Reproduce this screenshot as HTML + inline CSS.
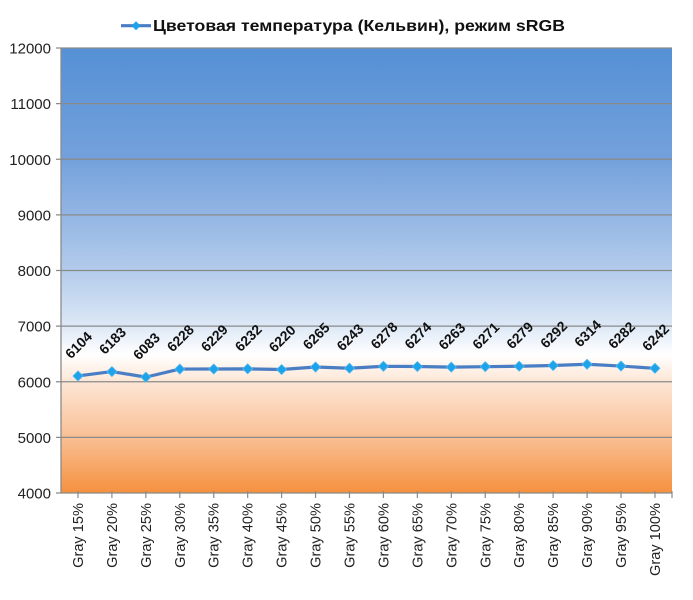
<!DOCTYPE html>
<html>
<head>
<meta charset="utf-8">
<style>
html,body{margin:0;padding:0;background:#fff;}
svg{display:block;}
text{font-family:"Liberation Sans",Arial,sans-serif;}
</style>
</head>
<body>
<svg width="693" height="600" viewBox="0 0 693 600" xmlns="http://www.w3.org/2000/svg">
<defs>
<linearGradient id="bg" x1="0" y1="0" x2="0" y2="1">
<stop offset="0" stop-color="#5590d5"/>
<stop offset="0.25" stop-color="#74a1dc"/>
<stop offset="0.375" stop-color="#93b6e3"/>
<stop offset="0.5" stop-color="#b3cbeb"/>
<stop offset="0.625" stop-color="#dde8f6"/>
<stop offset="0.69" stop-color="#ffffff"/>
<stop offset="0.75" stop-color="#fde6d5"/>
<stop offset="0.875" stop-color="#f9bf94"/>
<stop offset="1" stop-color="#f5913e"/>
</linearGradient>
</defs>
<rect x="61" y="48" width="611" height="445" fill="url(#bg)"/>
<g stroke="#8a8a8a" stroke-width="1.3">
<line x1="56" y1="48" x2="672" y2="48"/>
<line x1="56" y1="103.6" x2="672" y2="103.6"/>
<line x1="56" y1="159.25" x2="672" y2="159.25"/>
<line x1="56" y1="214.9" x2="672" y2="214.9"/>
<line x1="56" y1="270.5" x2="672" y2="270.5"/>
<line x1="56" y1="326.1" x2="672" y2="326.1"/>
<line x1="56" y1="381.75" x2="672" y2="381.75"/>
<line x1="56" y1="437.4" x2="672" y2="437.4"/>
<line x1="56" y1="493" x2="672" y2="493"/>
<line x1="61" y1="48" x2="61" y2="493"/>
</g>
<g stroke="#8a8a8a" stroke-width="1.2">
<line x1="77.97" y1="491" x2="77.97" y2="498"/>
<line x1="111.91" y1="491" x2="111.91" y2="498"/>
<line x1="145.85" y1="491" x2="145.85" y2="498"/>
<line x1="179.79" y1="491" x2="179.79" y2="498"/>
<line x1="213.73" y1="491" x2="213.73" y2="498"/>
<line x1="247.67" y1="491" x2="247.67" y2="498"/>
<line x1="281.61" y1="491" x2="281.61" y2="498"/>
<line x1="315.55" y1="491" x2="315.55" y2="498"/>
<line x1="349.49" y1="491" x2="349.49" y2="498"/>
<line x1="383.43" y1="491" x2="383.43" y2="498"/>
<line x1="417.37" y1="491" x2="417.37" y2="498"/>
<line x1="451.31" y1="491" x2="451.31" y2="498"/>
<line x1="485.25" y1="491" x2="485.25" y2="498"/>
<line x1="519.19" y1="491" x2="519.19" y2="498"/>
<line x1="553.13" y1="491" x2="553.13" y2="498"/>
<line x1="587.07" y1="491" x2="587.07" y2="498"/>
<line x1="621.01" y1="491" x2="621.01" y2="498"/>
<line x1="654.95" y1="491" x2="654.95" y2="498"/>
<line x1="672" y1="491" x2="672" y2="498"/>
</g>
<g font-size="15" fill="#222" text-anchor="end">
<text x="51" y="53.5">12000</text>
<text x="51" y="109">11000</text>
<text x="51" y="164.75">10000</text>
<text x="51" y="220.4">9000</text>
<text x="51" y="276">8000</text>
<text x="51" y="331.6">7000</text>
<text x="51" y="387.25">6000</text>
<text x="51" y="442.9">5000</text>
<text x="51" y="498.5">4000</text>
</g>
<g font-size="14.6" fill="#222" text-anchor="end">
<text transform="translate(83,503) rotate(-90)">Gray 15%</text>
<text transform="translate(116.9,503) rotate(-90)">Gray 20%</text>
<text transform="translate(150.85,503) rotate(-90)">Gray 25%</text>
<text transform="translate(184.8,503) rotate(-90)">Gray 30%</text>
<text transform="translate(218.7,503) rotate(-90)">Gray 35%</text>
<text transform="translate(252.7,503) rotate(-90)">Gray 40%</text>
<text transform="translate(286.6,503) rotate(-90)">Gray 45%</text>
<text transform="translate(320.55,503) rotate(-90)">Gray 50%</text>
<text transform="translate(354.5,503) rotate(-90)">Gray 55%</text>
<text transform="translate(388.4,503) rotate(-90)">Gray 60%</text>
<text transform="translate(422.4,503) rotate(-90)">Gray 65%</text>
<text transform="translate(456.3,503) rotate(-90)">Gray 70%</text>
<text transform="translate(490.25,503) rotate(-90)">Gray 75%</text>
<text transform="translate(524.2,503) rotate(-90)">Gray 80%</text>
<text transform="translate(558.1,503) rotate(-90)">Gray 85%</text>
<text transform="translate(592.1,503) rotate(-90)">Gray 90%</text>
<text transform="translate(626,503) rotate(-90)">Gray 95%</text>
<text transform="translate(660,503) rotate(-90)">Gray 100%</text>
</g>
<polyline fill="none" stroke="#4a7ec4" stroke-width="3.2" stroke-linejoin="round"
points="77.97,375.96 111.91,371.57 145.85,377.13 179.79,369.07 213.73,369.01 247.67,368.84 281.61,369.51 315.55,367.01 349.49,368.23 383.43,366.29 417.37,366.51 451.31,367.12 485.25,366.68 519.19,366.23 553.13,365.51 587.07,364.28 621.01,366.06 654.95,368.29"/>
<g fill="#1ea3ea" stroke="#4fb8f0" stroke-width="0.8">
<path d="M77.97,370.96 l5,5 l-5,5 l-5,-5z"/>
<path d="M111.91,366.57 l5,5 l-5,5 l-5,-5z"/>
<path d="M145.85,372.13 l5,5 l-5,5 l-5,-5z"/>
<path d="M179.79,364.07 l5,5 l-5,5 l-5,-5z"/>
<path d="M213.73,364.01 l5,5 l-5,5 l-5,-5z"/>
<path d="M247.67,363.84 l5,5 l-5,5 l-5,-5z"/>
<path d="M281.61,364.51 l5,5 l-5,5 l-5,-5z"/>
<path d="M315.55,362.01 l5,5 l-5,5 l-5,-5z"/>
<path d="M349.49,363.23 l5,5 l-5,5 l-5,-5z"/>
<path d="M383.43,361.29 l5,5 l-5,5 l-5,-5z"/>
<path d="M417.37,361.51 l5,5 l-5,5 l-5,-5z"/>
<path d="M451.31,362.12 l5,5 l-5,5 l-5,-5z"/>
<path d="M485.25,361.68 l5,5 l-5,5 l-5,-5z"/>
<path d="M519.19,361.23 l5,5 l-5,5 l-5,-5z"/>
<path d="M553.13,360.51 l5,5 l-5,5 l-5,-5z"/>
<path d="M587.07,359.28 l5,5 l-5,5 l-5,-5z"/>
<path d="M621.01,361.06 l5,5 l-5,5 l-5,-5z"/>
<path d="M654.95,363.29 l5,5 l-5,5 l-5,-5z"/>
</g>
<g font-size="14" font-weight="bold" fill="#111" text-anchor="middle">
<text transform="translate(78.47,344.96) rotate(-45)" dy="5">6104</text>
<text transform="translate(112.41,340.57) rotate(-45)" dy="5">6183</text>
<text transform="translate(146.35,346.13) rotate(-45)" dy="5">6083</text>
<text transform="translate(180.29,338.07) rotate(-45)" dy="5">6228</text>
<text transform="translate(214.23,338.01) rotate(-45)" dy="5">6229</text>
<text transform="translate(248.17,337.84) rotate(-45)" dy="5">6232</text>
<text transform="translate(282.11,338.51) rotate(-45)" dy="5">6220</text>
<text transform="translate(316.05,336.01) rotate(-45)" dy="5">6265</text>
<text transform="translate(349.99,337.23) rotate(-45)" dy="5">6243</text>
<text transform="translate(383.93,335.29) rotate(-45)" dy="5">6278</text>
<text transform="translate(417.87,335.51) rotate(-45)" dy="5">6274</text>
<text transform="translate(451.81,336.12) rotate(-45)" dy="5">6263</text>
<text transform="translate(485.75,335.68) rotate(-45)" dy="5">6271</text>
<text transform="translate(519.69,335.23) rotate(-45)" dy="5">6279</text>
<text transform="translate(553.63,334.51) rotate(-45)" dy="5">6292</text>
<text transform="translate(587.57,333.28) rotate(-45)" dy="5">6314</text>
<text transform="translate(621.51,335.06) rotate(-45)" dy="5">6282</text>
<text transform="translate(655.45,337.29) rotate(-45)" dy="5">6242</text>
</g>
<line x1="121" y1="25.7" x2="151" y2="25.7" stroke="#4a7ec4" stroke-width="3.2"/>
<path d="M136,21.2 l4.5,4.5 l-4.5,4.5 l-4.5,-4.5z" fill="#1ea3ea"/>
<text x="153" y="31" font-size="15.5" font-weight="bold" fill="#111" textLength="412" lengthAdjust="spacingAndGlyphs">Цветовая температура (Кельвин), режим sRGB</text>
</svg>
</body>
</html>
